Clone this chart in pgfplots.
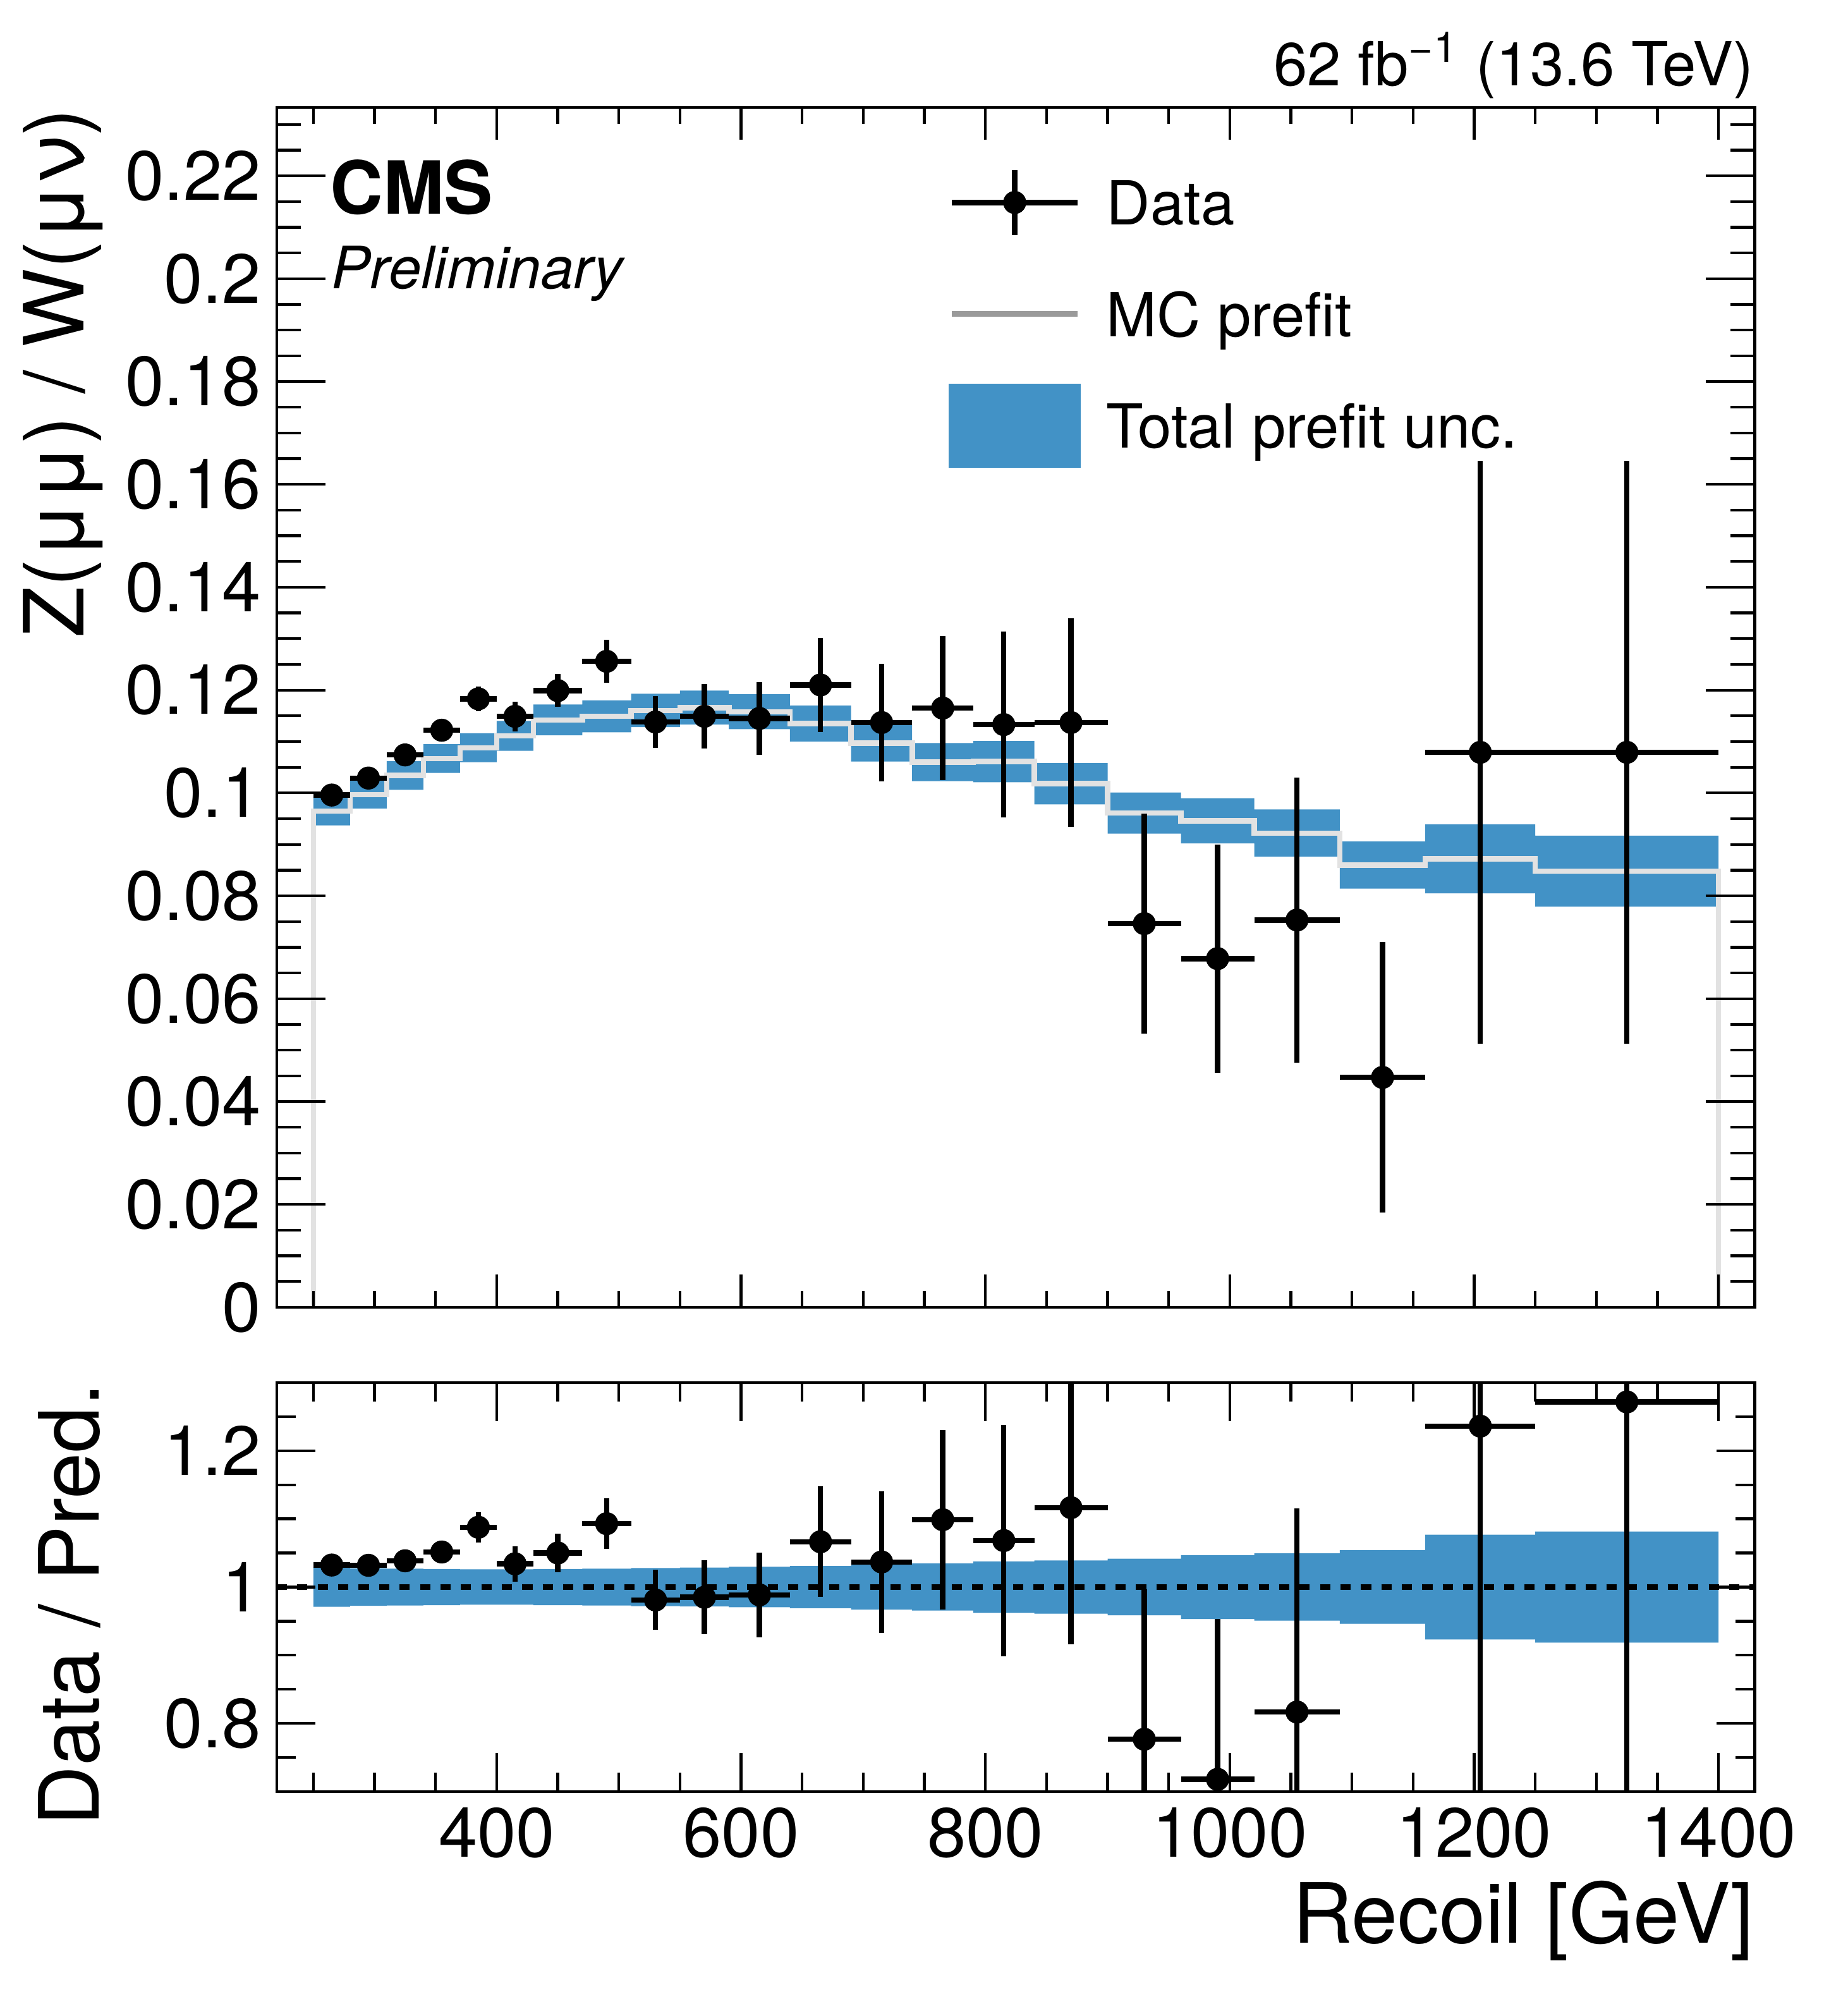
\documentclass[border=0pt]{standalone}
\usepackage{fontspec}
\setmainfont{TeX Gyre Heros}
\usepackage{pgfplots}
\usepackage{pgfplotstable}
\pgfplotsset{compat=1.18}
\usepgfplotslibrary{fillbetween}
\definecolor{band}{HTML}{4292C6}
\definecolor{mcgrey}{HTML}{E2E2E2}
\definecolor{leggrey}{HTML}{9A9A9A}

\pgfplotstableread{
x xe y ye
265 15 0.0996 0.0009
295 15 0.1029 0.0010
325 15 0.1074 0.0012
355 15 0.1122 0.0015
385 15 0.1183 0.0024
415 15 0.1149 0.0029
450 20 0.1199 0.0032
490 20 0.1256 0.0042
530 20 0.1138 0.0050
570 20 0.1149 0.0063
615 25 0.1145 0.0071
665 25 0.1210 0.0092
715 25 0.1137 0.0114
765 25 0.1165 0.0140
815 25 0.1133 0.0181
870 30 0.1137 0.0203
930 30 0.0746 0.0214
990 30 0.0678 0.0222
1055 35 0.0753 0.0277
1125 35 0.0447 0.0263
1205 45 0.1079 0.0567
1325 75 0.1079 0.0567
}\datatab

\pgfplotstableread{
x xe y ye
265 15 1.0323 0.010
295 15 1.0319 0.010
325 15 1.0385 0.012
355 15 1.0514 0.015
385 15 1.0877 0.022
415 15 1.0341 0.026
450 20 1.0500 0.028
490 20 1.0930 0.037
530 20 0.9810 0.044
570 20 0.9850 0.054
615 25 0.9885 0.062
665 25 1.0664 0.081
715 25 1.0368 0.104
765 25 1.0988 0.132
815 25 1.0682 0.170
870 30 1.1165 0.200
930 30 0.7768 0.220
990 30 0.7180 0.235
1055 35 0.8167 0.299
1205 45 1.2360 0.650
1325 75 1.2715 0.668
}\ratiotab

\pgfplotstableread{
x y
250 0
250 0.0965
280 0.0997
310 0.1034
340 0.1067
370 0.1088
400 0.1111
430 0.1142
470 0.1149
510 0.1160
550 0.1166
590 0.1158
640 0.1135
690 0.1097
740 0.1060
790 0.1061
840 0.1018
900 0.0961
960 0.0946
1020 0.0922
1090 0.0860
1160 0.0872
1250 0.0848
1400 0.0848
1400 0
}\mctab

\pgfplotstableread{
x lo hi
250 0.0937 0.0993
280 0.0970 0.1024
310 0.1006 0.1062
340 0.1039 0.1095
370 0.1060 0.1116
400 0.1082 0.1140
430 0.1112 0.1172
470 0.1118 0.1180
510 0.1128 0.1193
550 0.1133 0.1199
590 0.1124 0.1192
640 0.1100 0.1170
690 0.1061 0.1133
740 0.1023 0.1097
790 0.1021 0.1101
840 0.0978 0.1058
900 0.0921 0.1001
960 0.0902 0.0990
1020 0.0876 0.0968
1090 0.0814 0.0906
1160 0.0805 0.0939
1250 0.0779 0.0917
1400 0.0779 0.0917
}\bandup

\pgfplotstableread{
x lo hi
250 0.9710 1.0290
280 0.9725 1.0275
310 0.9730 1.0270
340 0.9735 1.0265
370 0.9740 1.0260
400 0.9740 1.0260
430 0.9735 1.0265
470 0.9730 1.0270
510 0.9720 1.0280
550 0.9715 1.0285
590 0.9703 1.0297
640 0.9690 1.0310
690 0.9670 1.0330
740 0.9655 1.0345
790 0.9624 1.0376
840 0.9610 1.0390
900 0.9585 1.0415
960 0.9530 1.0470
1020 0.9506 1.0494
1090 0.9460 1.0540
1160 0.9232 1.0768
1250 0.9185 1.0815
1400 0.9185 1.0815
}\bandlow

\pgfplotsset{
  cmsbase/.style={
    scale only axis,
    width=11.559cm,
    xmin=220, xmax=1429.5,
    tick align=inside,
    axis on top,
    clip mode=individual,
    every tick/.append style={line width=0.6pt, black},
    every minor tick/.append style={line width=0.6pt, black},
    axis line style={line width=0.66pt},
    scaled x ticks=false, scaled y ticks=false,
    /pgf/number format/assume math mode=true,
    /pgf/number format/set thousands separator={},
    tick label style={font=\fontsize{15.5}{18}\selectfont},
    yticklabel style={/pgf/number format/fixed, /pgf/number format/precision=3},
    label style={font=\fontsize{18.5}{22}\selectfont, inner sep=0pt},
  },
  databar/.style={
    only marks, black, mark=*, mark size=2.36pt, mark options={fill=black},
    error bars/x dir=both, error bars/x explicit,
    error bars/y dir=both, error bars/y explicit,
    error bars/error mark=none,
    error bars/error bar style={line width=1.18pt, black},
  },
}

\begin{document}
\begin{tikzpicture}

% upper panel (content and y ticks)
\begin{axis}[cmsbase,
  at={(0,3.787cm)}, height=9.383cm,
  ymin=0, ymax=0.2333,
  xtick=\empty,
  ytick={0,0.02,0.04,0.06,0.08,0.1,0.12,0.14,0.16,0.18,0.2,0.22},
  minor ytick={0.005,0.01,...,0.231},
  major tick length=0.38cm, minor tick length=0.19cm,
  ylabel={Z(μμ) / W(μν)},
  ylabel style={at={(rel axis cs:-0.1306,1)}, anchor=base east},
  legend style={at={(0.4546,0.9672)}, anchor=north west, draw=none, fill=none,
    inner sep=0pt, outer sep=0pt, column sep=0.203cm, row sep=0pt,
    font=\fontsize{13.5}{16}\selectfont,
    nodes={inner sep=0pt, text depth=0pt}},
  legend cell align=left,
]
\addplot[const plot, draw=none, name path=uphi, forget plot] table[x=x,y=hi]{\bandup};
\addplot[const plot, draw=none, name path=uplo, forget plot] table[x=x,y=lo]{\bandup};
\addplot[fill=band, draw=none, forget plot] fill between[of=uphi and uplo];
\addplot[const plot, mcgrey, line width=1.2pt, forget plot] table[x=x,y=y]{\mctab};
\addplot[forget plot, databar] table[x=x, y=y, x error=xe, y error=ye]{\datatab};

\addlegendimage{legend image code/.code={
  \path[draw=none, fill=none] (0cm,-0.436cm) rectangle (1.018cm,0.436cm);
  \draw[black, line width=1.18pt] (0.02cm,0cm) -- (1.0cm,0cm);
  \draw[black, line width=1.18pt] (0.51cm,-0.255cm) -- (0.51cm,0.255cm);
  \fill[black] (0.51cm,0cm) circle (2.36pt);}}
\addlegendentry{Data}
\addlegendimage{legend image code/.code={
  \path[draw=none, fill=none] (0cm,-0.436cm) rectangle (1.018cm,0.436cm);
  \draw[leggrey, line width=1.2pt] (0.02cm,0cm) -- (1.0cm,0cm);}}
\addlegendentry{MC prefit}
\addlegendimage{legend image code/.code={
  \path[draw=none, fill=none] (0cm,-0.436cm) rectangle (1.018cm,0.436cm);
  \fill[band] (0cm,-0.3215cm) rectangle (1.018cm,0.3215cm);}}
\addlegendentry{Total prefit unc.}

\node[anchor=base west, inner sep=0pt, font=\fontsize{16.3}{19}\selectfont\bfseries] at (rel axis cs:0.0356,0.9114) {CMS};
\node[anchor=base west, inner sep=0pt, font=\fontsize{13.0}{16}\selectfont\itshape] at (rel axis cs:0.0362,0.8490) {Preliminary};
\node[anchor=base east, inner sep=0pt, font=\fontsize{13.5}{16}\selectfont] at (rel axis cs:1,1.0179) {62 fb\textsuperscript{−1} (13.6 TeV)};
\end{axis}

% upper panel (x ticks, shorter)
\begin{axis}[cmsbase,
  at={(0,3.787cm)}, height=9.383cm,
  ymin=0, ymax=0.2333,
  ytick=\empty,
  xtick={400,600,800,1000,1200,1400},
  minor xtick={250,300,...,1400},
  xticklabels={},
  major tick length=0.255cm, minor tick length=0.13cm,
]
\end{axis}

% lower panel
\begin{axis}[cmsbase,
  at={(0,0)}, height=3.199cm,
  ymin=0.7, ymax=1.3,
  xtick={400,600,800,1000,1200,1400},
  minor xtick={250,300,...,1400},
  ytick={0.8,1,1.2},
  minor ytick={0.75,0.85,0.9,0.95,1.05,1.1,1.15,1.25},
  major tick length=0.30cm, minor tick length=0.15cm,
  xlabel={Recoil [GeV]},
  xlabel style={at={(rel axis cs:1,0)}, anchor=base east, yshift=-1.186cm},
  ylabel={Data / Pred.},
  ylabel style={at={(rel axis cs:-0.1203,1)}, anchor=base east},
]
\addplot[const plot, draw=none, name path=lohi] table[x=x,y=hi]{\bandlow};
\addplot[const plot, draw=none, name path=lolo] table[x=x,y=lo]{\bandlow};
\addplot[fill=band, draw=none] fill between[of=lohi and lolo];
\addplot[black, line width=1.2pt, dash pattern=on 0.8mm off 0.8mm] coordinates {(220,1) (1429.5,1)};
\addplot[databar] table[x=x, y=y, x error=xe, y error=ye]{\ratiotab};
\end{axis}
\path (-2.165cm,-1.567cm) rectangle (12.285cm,14.010cm);
\end{tikzpicture}
\end{document}
